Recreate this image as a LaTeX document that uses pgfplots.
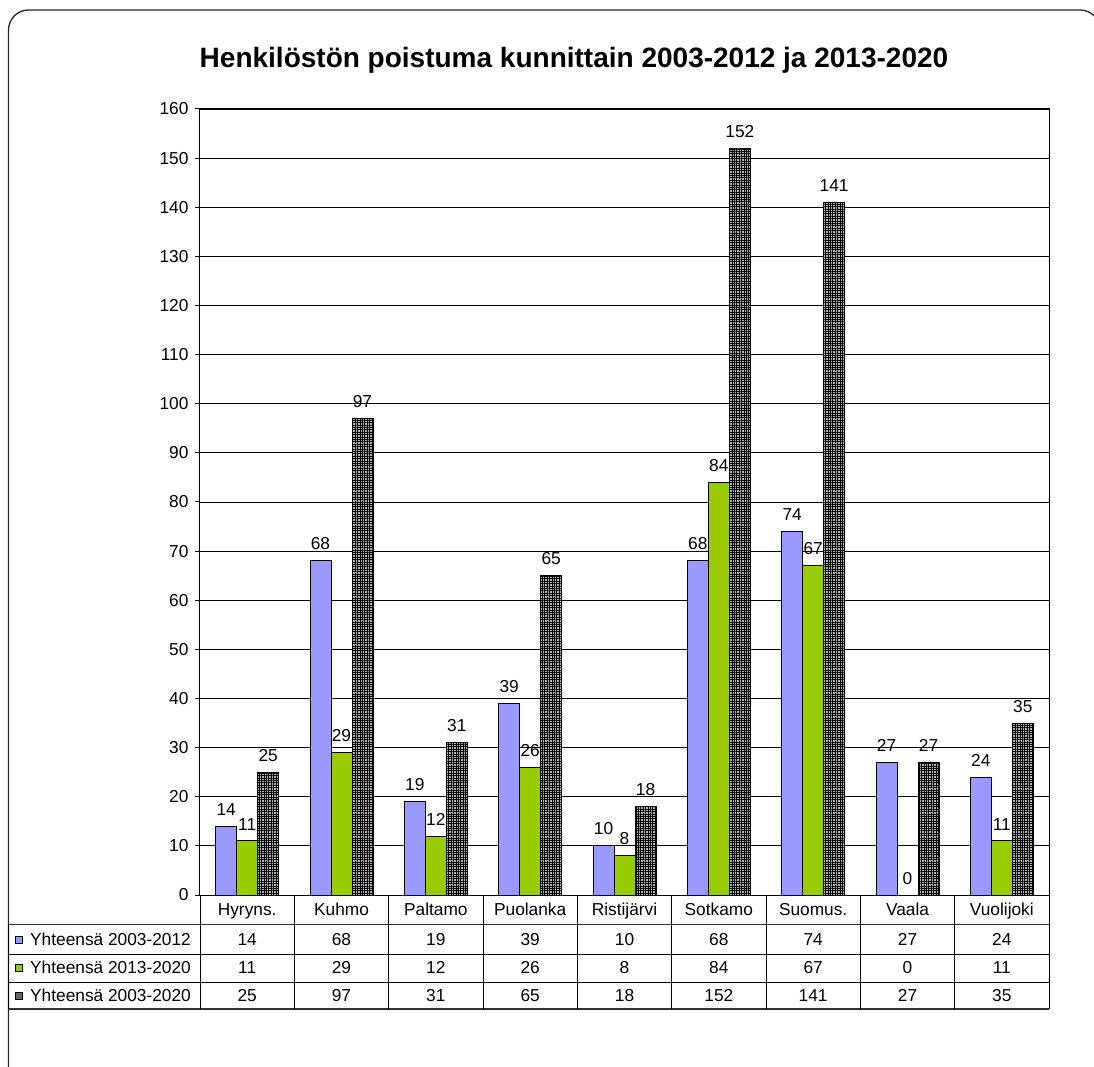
\documentclass[border=0pt]{standalone}
\usepackage{fontspec}
\setmainfont{Liberation Sans}
\usepackage{pgfplots}
\usepackage{pgfplotstable}
\pgfplotsset{compat=1.18}
\usetikzlibrary{patterns.meta}
\definecolor{cA}{HTML}{9999FF}
\definecolor{cB}{HTML}{99CC00}

\pgfplotstableread{
x a b c
0 14 11 25
1 68 29 97
2 19 12 31
3 39 26 65
4 10 8 18
5 68 84 152
6 74 67 141
7 27 0 27
8 24 11 35
}\data

\newcommand{\tf}{\fontsize{17.3}{20}\selectfont}
\tikzset{grayhatch/.style={fill=black!30, postaction={pattern={Hatch[angle=0,distance=2.4pt,line width=1pt]}}}}

\begin{document}
\begin{tikzpicture}
\begin{axis}[
  anchor=south west, at={(0pt,0pt)},
  width=849pt, height=786pt, scale only axis,
  xmin=-0.5, xmax=8.5, ymin=0, ymax=160,
  ytick distance=10, xtick=\empty,
  ybar=0pt, bar width=21pt,
  axis line style={line width=1pt},
  ymajorgrids, grid style={line width=0.9pt, black},
  tick style={line width=1pt, black}, tick align=outside, ytick pos=left, major tick length=5pt,
  yticklabel style={font=\tf, xshift=-3pt},
  /pgf/number format/assume math mode=true,
  nodes near coords,
  every node near coord/.append style={font=\tf, yshift=7pt},
  clip=false,
]
\addplot[fill=cA, draw=black, line width=1pt] table[x=x,y=a]{\data};
\addplot[fill=cB, draw=black, line width=1pt] table[x=x,y=b]{\data};
\addplot[grayhatch, draw=black, line width=1pt] table[x=x,y=c]{\data};
\end{axis}

\begin{scope}[x=1pt,y=1pt,shift={(-200pt,-171pt)}]
\useasboundingbox (0,0) rectangle (1094,1066);
\begin{scope}
\clip (0,0) rectangle (1094,1066);
\draw[line width=1.3pt, black!85, rounded corners=20pt] (8.5,-30) rectangle (1100,1056);
\end{scope}
\node[font=\bfseries\fontsize{28}{32}\selectfont, anchor=base] at (574,998.5) {Henkilöstön poistuma kunnittain 2003-2012 ja 2013-2020};

% data table
\begin{scope}[line width=1pt]
\draw[black!80, line width=1.3pt] (9,141.5) -- (1049,141.5);
\draw (9,112) -- (1049,112);
\draw (9,84) -- (1049,84);
\draw[black!80, line width=1.3pt] (9,57) -- (1049,57);
\draw (9,141.5) -- (9,57);
\draw (200,171) -- (200,57);
\foreach \k in {1,...,9} {\draw ({200+\k*94.333},171) -- ({200+\k*94.333},57);}
\end{scope}
\foreach \n [count=\i from 0] in {Hyryns.,Kuhmo,Paltamo,Puolanka,Ristijärvi,Sotkamo,Suomus.,Vaala,Vuolijoki} {
  \node[font=\tf, anchor=base] at ({200+(\i+0.5)*94.333},151) {\n};
}
\foreach \i in {0,...,8} {
  \pgfplotstablegetelem{\i}{a}\of\data
  \node[font=\tf, anchor=base] at ({200+(\i+0.5)*94.333},120.5) {\pgfplotsretval};
  \pgfplotstablegetelem{\i}{b}\of\data
  \node[font=\tf, anchor=base] at ({200+(\i+0.5)*94.333},92.5) {\pgfplotsretval};
  \pgfplotstablegetelem{\i}{c}\of\data
  \node[font=\tf, anchor=base] at ({200+(\i+0.5)*94.333},64.5) {\pgfplotsretval};
}
\draw[fill=cA, line width=0.7pt] (15,123) rectangle (22,130);
\draw[fill=cB, line width=0.7pt] (15,94.5) rectangle (22,101.5);
\draw[fill=black!60, line width=0.7pt] (15,67) rectangle (22,74);
\node[anchor=base west, font=\tf, inner sep=0pt] at (30,120.5) {Yhteensä 2003-2012};
\node[anchor=base west, font=\tf, inner sep=0pt] at (30,92.5) {Yhteensä 2013-2020};
\node[anchor=base west, font=\tf, inner sep=0pt] at (30,64.5) {Yhteensä 2003-2020};
\end{scope}
\end{tikzpicture}
\end{document}
